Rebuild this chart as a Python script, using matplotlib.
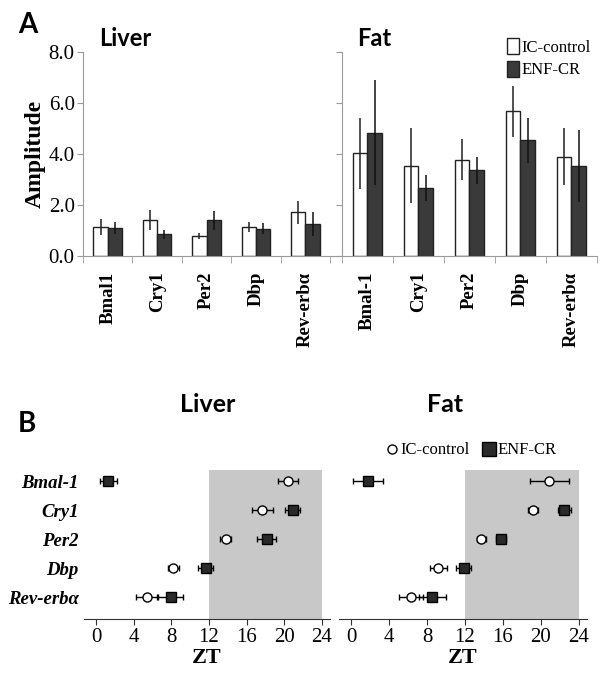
import matplotlib
matplotlib.use("Agg")
import matplotlib.pyplot as plt
import numpy as np
from matplotlib.patches import Patch
from matplotlib.lines import Line2D

plt.rcParams['font.family'] = ['Liberation Serif', 'DejaVu Serif']

# ---- panel A data (amplitude) ----
liver_genes = ['Bmal1', 'Cry1', 'Per2', 'Dbp', 'Rev-erbα']
liver_ic = [1.15, 1.41, 0.80, 1.14, 1.72]
liver_ic_err = [0.32, 0.39, 0.11, 0.19, 0.46]
liver_cr = [1.12, 0.86, 1.41, 1.08, 1.27]
liver_cr_err = [0.23, 0.18, 0.38, 0.22, 0.46]

fat_genes = ['Bmal-1', 'Cry1', 'Per2', 'Dbp', 'Rev-erbα']
fat_ic = [4.03, 3.54, 3.77, 5.67, 3.89]
fat_ic_err = [1.38, 1.46, 0.80, 1.00, 1.12]
fat_cr = [4.84, 2.67, 3.36, 4.54, 3.54]
fat_cr_err = [2.05, 0.50, 0.52, 0.88, 1.40]

# ---- panel B data (peak phase, ZT) ----
phase_genes = ['Bmal-1', 'Cry1', 'Per2', 'Dbp', 'Rev-erbα']
liver_ic_zt = [20.4, 17.65, 13.77, 8.2, 5.37]
liver_ic_zt_err = [1.1, 1.1, 0.6, 0.6, 1.1]
liver_cr_zt = [1.31, 20.9, 18.15, 11.65, 7.94]
liver_cr_zt_err = [0.9, 0.8, 1.0, 0.8, 1.35]

fat_ic_zt = [20.9, 19.2, 13.74, 9.18, 6.29]
fat_ic_zt_err = [2.05, 0.5, 0.5, 0.9, 1.3]
fat_cr_zt = [1.73, 22.5, 15.82, 11.86, 8.55]
fat_cr_zt_err = [1.6, 0.7, 0.5, 0.8, 1.45]

W, H = 600, 674
fig = plt.figure(figsize=(6, 6.74), dpi=100)

def rect(x0, y0, x1, y1):
    # pixel box (top-left origin) -> figure fraction
    return [x0 / W, 1 - y1 / H, (x1 - x0) / W, (y1 - y0) / H]

dark = '#3a3a3a'
grey = '#9a9a9a'
bw = 0.29

def bar_panel(ax, genes, ic, ic_err, cr, cr_err, xmax, show_y):
    x = np.arange(len(genes))
    ax.bar(x - bw / 2, ic, bw, color='white', edgecolor='#222222', linewidth=1.0, zorder=2)
    ax.bar(x + bw / 2, cr, bw, color=dark, edgecolor='#222222', linewidth=1.0, zorder=2)
    ax.errorbar(x - bw / 2, ic, yerr=ic_err, fmt='none', ecolor='#222222', elinewidth=1.1, capsize=0, zorder=3)
    ax.errorbar(x + bw / 2, cr, yerr=cr_err, fmt='none', ecolor='#111111', elinewidth=1.1, capsize=0, zorder=3)
    ax.set_xlim(-0.5, xmax)
    ax.set_ylim(0, 8)
    for s in ['top', 'right']:
        ax.spines[s].set_visible(False)
    ax.spines['left'].set_color(grey)
    ax.spines['bottom'].set_color(grey)
    ax.set_xticks(x)
    ax.set_xticklabels(genes, rotation=90, fontsize=13.5, fontweight='bold')
    ax.tick_params(axis='x', which='major', length=0, pad=11)
    ax.set_xticks(np.arange(-0.5, len(genes), 1.0), minor=True)
    ax.tick_params(axis='x', which='minor', length=5, color=grey, direction='out')
    ax.set_yticks(np.arange(0, 8.1, 2))
    ax.tick_params(axis='y', length=4, color=grey, direction='out', pad=2)
    if show_y:
        ax.set_yticklabels(['%.1f' % v for v in np.arange(0, 8.1, 2)], fontsize=15)
    else:
        ax.set_yticklabels([])

axA1 = fig.add_axes(rect(83, 51.7, 342, 256.3))
bar_panel(axA1, liver_genes, liver_ic, liver_ic_err, liver_cr, liver_cr_err, 4.74, True)
axA1.set_ylabel('Amplitude', fontsize=17, fontweight='bold', labelpad=2)

axA2 = fig.add_axes(rect(342, 51.7, 597, 256.3))
bar_panel(axA2, fat_genes, fat_ic, fat_ic_err, fat_cr, fat_cr_err, 4.5, False)
axA2.legend(handles=[Patch(facecolor='white', edgecolor='#222222', label='IC-control'),
                     Patch(facecolor=dark, edgecolor='#222222', label='ENF-CR')],
            loc='upper right', bbox_to_anchor=(1.0, 1.1), frameon=False, fontsize=12,
            handlelength=0.75, handleheight=1.1, handletextpad=0.1, labelspacing=0.3,
            borderaxespad=0)

def phase_panel(ax, ic, ic_err, cr, cr_err, show_labels):
    y = np.arange(len(phase_genes))[::-1] + 1
    ax.axvspan(12, 24, color='#c8c8c8', zorder=0, lw=0)
    ax.errorbar(ic, y, xerr=ic_err, fmt='o', color='black', mfc='white', mec='black',
                ms=6.5, mew=1.0, ecolor='black', elinewidth=1.0, capsize=2.5, zorder=3)
    ax.errorbar(cr, y, xerr=cr_err, fmt='s', color='black', mfc='#2a2a2a', mec='black',
                ms=7.5, mew=1.0, ecolor='black', elinewidth=1.0, capsize=2.5, zorder=3)
    ax.set_xlim(-1.27, 24.85)
    ax.set_ylim(0.24, 5.38)
    for s in ['top', 'right', 'left']:
        ax.spines[s].set_visible(False)
    ax.spines['bottom'].set_color('#333333')
    ax.set_xticks(np.arange(0, 25, 4))
    ax.tick_params(axis='x', labelsize=15, length=4, color='#333333', pad=2)
    ax.set_xlabel('ZT', fontsize=16, fontweight='bold', labelpad=1)
    ax.set_yticks(y)
    if show_labels:
        ax.set_yticklabels(phase_genes, fontsize=13.5, fontweight='bold', fontstyle='italic')
    else:
        ax.set_yticklabels([])
    ax.tick_params(axis='y', length=0, pad=4)

axB1 = fig.add_axes(rect(84, 470, 330, 619.3))
phase_panel(axB1, liver_ic_zt, liver_ic_zt_err, liver_cr_zt, liver_cr_zt_err, True)
axB2 = fig.add_axes(rect(339.3, 470, 586.7, 619.3))
phase_panel(axB2, fat_ic_zt, fat_ic_zt_err, fat_cr_zt, fat_cr_zt_err, False)
axB2.legend(handles=[Line2D([], [], marker='o', ls='none', mfc='white', mec='black', ms=6.5, label='IC-control'),
                     Line2D([], [], marker='s', ls='none', mfc='#2a2a2a', mec='black', ms=10, label='ENF-CR')],
            loc='lower center', bbox_to_anchor=(0.535, 1.0), ncol=2, frameon=False, fontsize=12,
            handlelength=0.6, handletextpad=0.2, columnspacing=0.9, borderaxespad=0.3)

sans = ['Lato', 'DejaVu Sans']
fig.text(18 / W, 1 - 33 / H, 'A', fontsize=20, fontweight='bold', family=sans)
fig.text(18 / W, 1 - 432 / H, 'B', fontsize=20, fontweight='bold', family=sans)
fig.text(99 / W, 1 - 46 / H, 'Liver', fontsize=17, fontweight='bold', family=sans)
fig.text(357 / W, 1 - 46 / H, 'Fat', fontsize=17, fontweight='bold', family=sans)
fig.text(208 / W, 1 - 412 / H, 'Liver', fontsize=18, fontweight='bold', family=sans, ha='center')
fig.text(445 / W, 1 - 412 / H, 'Fat', fontsize=18, fontweight='bold', family=sans, ha='center')

fig.savefig('out.png', dpi=100)
